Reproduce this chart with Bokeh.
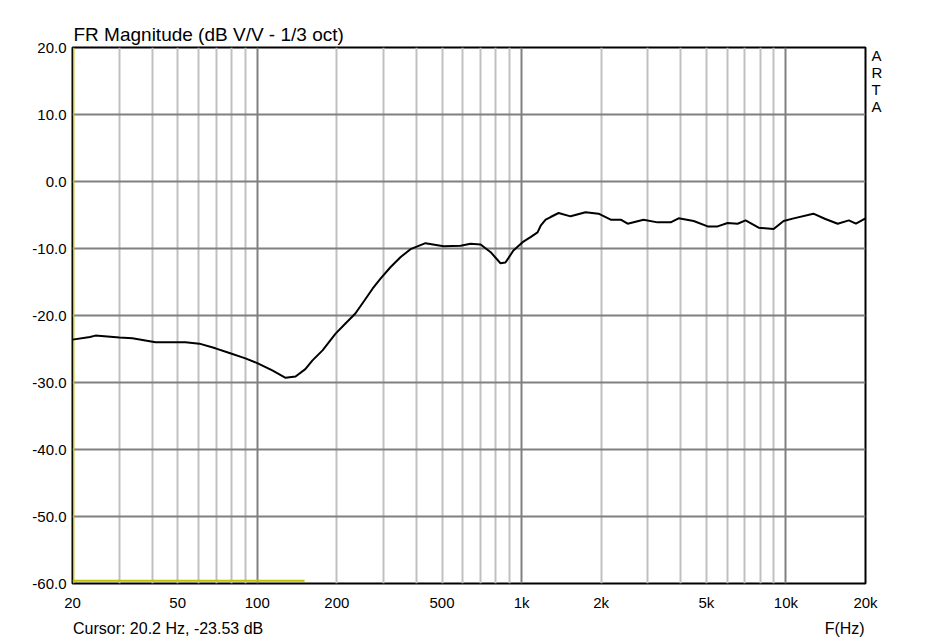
from bokeh.plotting import figure
from bokeh.models import (Range1d, FixedTicker, Grid, NumeralTickFormatter, ColumnDataSource,
                          LinearAxis, LogAxis)
from bokeh.embed import file_html
from bokeh.resources import INLINE

# ---- data ----
freq = [20, 23.3, 24.4, 30.1, 33.7, 41.2, 53.5, 60.4, 69.5, 78.5, 90.2, 100, 114, 128, 139.6,
        152, 161.8, 176.6, 197.8, 215.6, 235, 254, 273, 292.6, 319, 348, 380, 433, 507, 588,
        641, 700, 764, 832, 869, 931, 1009, 1081, 1149, 1181, 1233, 1288, 1380, 1532, 1746,
        1955, 2173, 2372, 2519, 2893, 3267, 3664, 3926, 4478, 5058, 5515, 6017, 6564, 7036,
        7884, 8982, 9800, 10700, 12700, 14100, 15700, 17300, 18400, 20000]
mag_db = [-23.6, -23.2, -23.0, -23.3, -23.4, -24.0, -24.0, -24.2, -24.9, -25.6, -26.4, -27.1,
          -28.2, -29.3, -29.1, -28.0, -26.7, -25.2, -22.7, -21.2, -19.7, -17.8, -16.0, -14.5,
          -12.8, -11.3, -10.1, -9.2, -9.65, -9.6, -9.3, -9.4, -10.55, -12.2, -12.1, -10.3,
          -9.05, -8.3, -7.6, -6.6, -5.7, -5.3, -4.7, -5.2, -4.6, -4.8, -5.7, -5.7, -6.3, -5.7,
          -6.1, -6.1, -5.5, -5.9, -6.7, -6.7, -6.2, -6.3, -5.8, -6.9, -7.1, -5.9, -5.5, -4.8,
          -5.6, -6.3, -5.8, -6.3, -5.5]

x_ticks = [20, 50, 100, 200, 500, 1000, 2000, 5000, 10000, 20000]
x_tick_labels = ["20", "50", "100", "200", "500", "1k", "2k", "5k", "10k", "20k"]
y_ticks = [-60, -50, -40, -30, -20, -10, 0, 10, 20]
minor_grid = [30, 40, 50, 60, 70, 80, 90, 200, 300, 400, 500, 600, 700, 800, 900,
              2000, 3000, 4000, 5000, 6000, 7000, 8000, 9000]
major_grid = [100, 1000, 10000]

cursor_f = 20.2
cursor_db = -23.53
marker_f = [20, 151]
marker_db = [-59.6, -59.6]

title_text = "FR Magnitude (dB V/V - 1/3 oct)"
cursor_text = "Cursor: %.1f Hz, %.2f dB" % (cursor_f, cursor_db)
xlabel_text = "F(Hz)"
side_letters = ["A", "R", "T", "A"]
side_letter_pos = [18.8, 16.27, 13.73, 11.19]
bottom_text_pos = [46.0, 16680.0]

FONT = "Liberation Sans"

p = figure(width=937, height=641, x_axis_type="log",
           x_range=Range1d(20, 20000), y_range=Range1d(-60, 20),
           output_backend="svg", toolbar_location=None,
           min_border_left=72, min_border_right=72, min_border_top=47, min_border_bottom=58)

p.background_fill_color = "white"
p.border_fill_color = "white"
p.outline_line_color = "black"
p.outline_line_width = 2

p.title.text = title_text
p.title.align = "left"
p.title.text_font = FONT
p.title.text_font_size = "19px"
p.title.text_font_style = "normal"
p.title.text_color = "black"
p.title.standoff = 6
p.title.offset = 1


def style_axis(ax, size="15px"):
    ax.axis_line_color = None
    ax.major_tick_line_color = None
    ax.minor_tick_line_color = None
    ax.major_tick_out = 0
    ax.major_tick_in = 0
    ax.major_label_text_font = FONT
    ax.major_label_text_font_size = size
    ax.major_label_text_color = "black"


# axes
p.xaxis.ticker = FixedTicker(ticks=x_ticks)
p.xaxis.major_label_overrides = {t: l for t, l in zip(x_ticks, x_tick_labels)}
p.yaxis.ticker = FixedTicker(ticks=y_ticks)
p.yaxis.formatter = NumeralTickFormatter(format="0.0")
style_axis(p.xaxis[0])
style_axis(p.yaxis[0])
p.xaxis.major_label_standoff = 10
p.yaxis.major_label_standoff = 6

# bottom texts (cursor read-out and axis name) as a second bottom axis
bx = LogAxis(ticker=FixedTicker(ticks=bottom_text_pos),
             major_label_overrides={bottom_text_pos[0]: cursor_text,
                                    bottom_text_pos[1]: xlabel_text})
style_axis(bx, "16px")
bx.major_label_standoff = 6
p.add_layout(bx, "below")

# side letters "ARTA"
ry = LinearAxis(ticker=FixedTicker(ticks=side_letter_pos),
                major_label_overrides={v: c for v, c in zip(side_letter_pos, side_letters)})
style_axis(ry, "15px")
ry.major_label_standoff = 6
p.add_layout(ry, "right")

# grids
p.xgrid.ticker = FixedTicker(ticks=minor_grid)
p.xgrid.grid_line_color = "#c0c0c0"
p.xgrid.grid_line_width = 2
p.ygrid.ticker = FixedTicker(ticks=y_ticks)
p.ygrid.grid_line_color = "#808080"
p.ygrid.grid_line_width = 2
g2 = Grid(dimension=0, ticker=FixedTicker(ticks=major_grid),
          grid_line_color="#808080", grid_line_width=2)
p.center.append(g2)

# cursor / marker
p.line([cursor_f, cursor_f], [-60, 20], line_color="#c0c000", line_width=1.5)
p.line(marker_f, marker_db, line_color="#c0c000", line_width=2)

# curve
src = ColumnDataSource(dict(f=freq, db=mag_db))
p.line("f", "db", source=src, line_color="black", line_width=2)

open("out.html", "w").write(file_html(p, INLINE))
